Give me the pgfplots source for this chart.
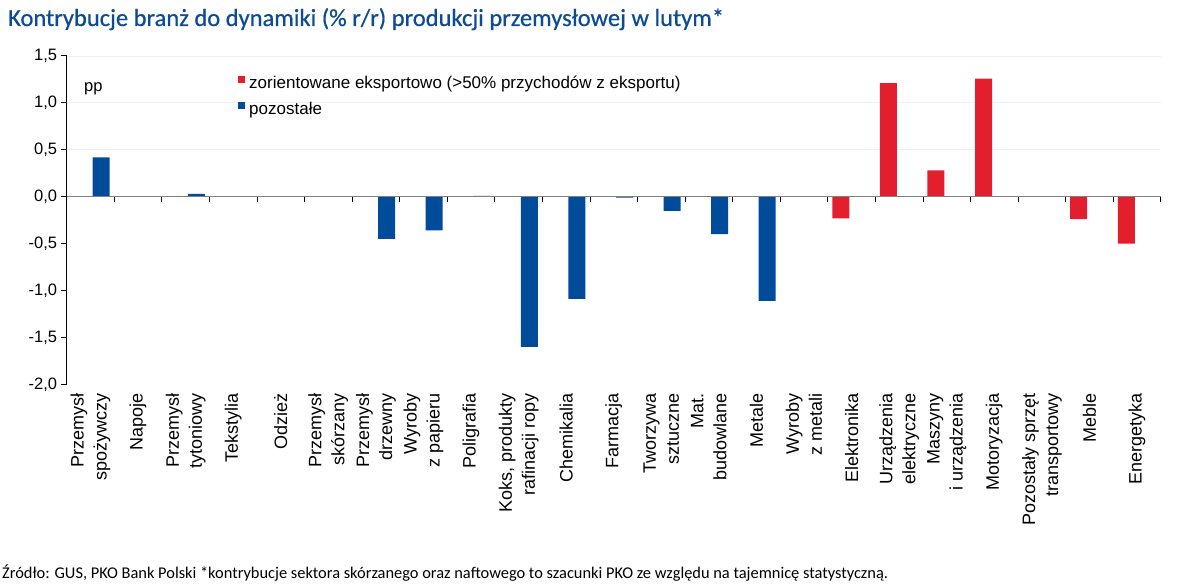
\documentclass[border=0pt]{standalone}
\usepackage{pgfplots}
\pgfplotsset{compat=1.18}
\usepackage{pgfplotstable}
\usepackage{fontspec}
\setmainfont{Liberation Sans}
\newfontfamily\titlefont[FakeBold=0.6]{Carlito}
\newfontfamily\footfont{Carlito}
\definecolor{pkoblue}{HTML}{004C9A}
\definecolor{pkored}{HTML}{E31E2D}
\definecolor{titleblue}{HTML}{0D4C94}

\pgfplotstableread{
idx red blue
0 0 0.42
1 0 0.005
2 0 0.03
3 0 0
4 0 0
5 0 0
6 0 -0.45
7 0 -0.36
8 0 0.01
9 0 -1.60
10 0 -1.09
11 0 -0.01
12 0 -0.15
13 0 -0.40
14 0 -1.11
15 0 0
16 -0.23 0
17 1.21 0
18 0.28 0
19 1.26 0
20 0 0
21 -0.24 0
22 -0.50 0
}\datatable

\begin{document}
\begin{tikzpicture}
\useasboundingbox (0pt,0pt) rectangle (1196pt,586pt);
\node[anchor=base west, inner sep=0pt, text=titleblue, font=\titlefont\fontsize{24.5}{28}\selectfont] at (8pt,560pt) {Kontrybucje branż do dynamiki (\% r/r) produkcji przemysłowej w lutym*};
\node[anchor=base west, inner sep=0pt, font=\footfont\fontsize{16.4}{19}\selectfont] at (2pt,8pt) {Źródło: GUS, PKO Bank Polski *kontrybucje sektora skórzanego oraz naftowego to szacunki PKO ze względu na tajemnicę statystyczną.};

\begin{axis}[
  at={(66.7pt,201.7pt)}, anchor=south west,
  scale only axis, width=1094.1pt, height=328.3pt,
  xmin=-0.5, xmax=22.5, ymin=-2, ymax=1.5,
  axis y line*=left, axis x line*=bottom,
  x axis line style={draw=none},
  y axis line style={line width=1.2pt, black},
  ybar=4.5pt, bar width=17pt,
  xtick={0,...,22},
  xticklabels={{Przemysł\\spożywczy},{Napoje},{Przemysł\\tytoniowy},{Tekstylia},{Odzież},{Przemysł\\skórzany},{Przemysł\\drzewny},{Wyroby\\z papieru},{Poligrafia},{Koks, produkty\\rafinacji ropy},{Chemikalia},{Farmacja},{Tworzywa\\sztuczne},{Mat.\\budowlane},{Metale},{Wyroby\\z metali},{Elektronika},{Urządzenia\\elektryczne},{Maszyny\\i urządzenia},{Motoryzacja},{Pozostały sprzęt\\transportowy},{Meble},{Energetyka}},
  x tick style={draw=none},
  xticklabel style={rotate=90, anchor=east, align=right, font=\fontsize{18}{23}\selectfont},
  ytick={-2,-1.5,-1,-0.5,0,0.5,1,1.5},
  yticklabels={{-2,0},{-1,5},{-1,0},{-0,5},{0,0},{0,5},{1,0},{1,5}},
  yticklabel style={font=\fontsize{16.5}{19}\selectfont, anchor=east},
  tick align=outside, major tick length=6pt,
  y tick style={black, line width=1pt},
  legend style={at={(0.1566,0.9397)}, anchor=north west, draw=none, fill=none, inner sep=0pt, row sep=9.5pt, column sep=4pt, font=\fontsize{17}{20}\selectfont, nodes={inner sep=0pt, text height=12.5pt, text depth=3.5pt}},
  legend cell align=left,
  legend image code/.code={\fill[#1] (0pt,1.5pt) rectangle (7pt,8.5pt);},
]
\draw[black!6, line width=0.8pt] (axis cs:-0.5,0.5) -- (axis cs:22.5,0.5);
\draw[black!6, line width=0.8pt] (axis cs:-0.5,1) -- (axis cs:22.5,1);
\draw[black!6, line width=0.8pt] (axis cs:-0.5,1.5) -- (axis cs:22.5,1.5);
\addplot[fill=pkored, draw=none] table[x=idx, y=red] {\datatable};
\addplot[fill=pkoblue, draw=none] table[x=idx, y=blue] {\datatable};
\legend{zorientowane eksportowo (>50\% przychodów z eksportu), pozostałe}
\end{axis}

\begin{axis}[
  at={(66.7pt,389.3pt)}, anchor=south west,
  scale only axis, width=1094.1pt, height=10pt,
  xmin=-0.5, xmax=22.5, ymin=0, ymax=1,
  axis x line*=bottom, axis y line=none,
  xtick={0.5,1.5,...,22.5}, xticklabels={},
  tick align=outside, major tick length=5.5pt,
  x axis line style={draw=black!50, line width=1.5pt},
  x tick style={black, line width=0.9pt},
]
\end{axis}

\node[anchor=base west, inner sep=0pt, font=\fontsize{16.5}{19}\selectfont] at (84pt,494.3pt) {pp};
\end{tikzpicture}
\end{document}
